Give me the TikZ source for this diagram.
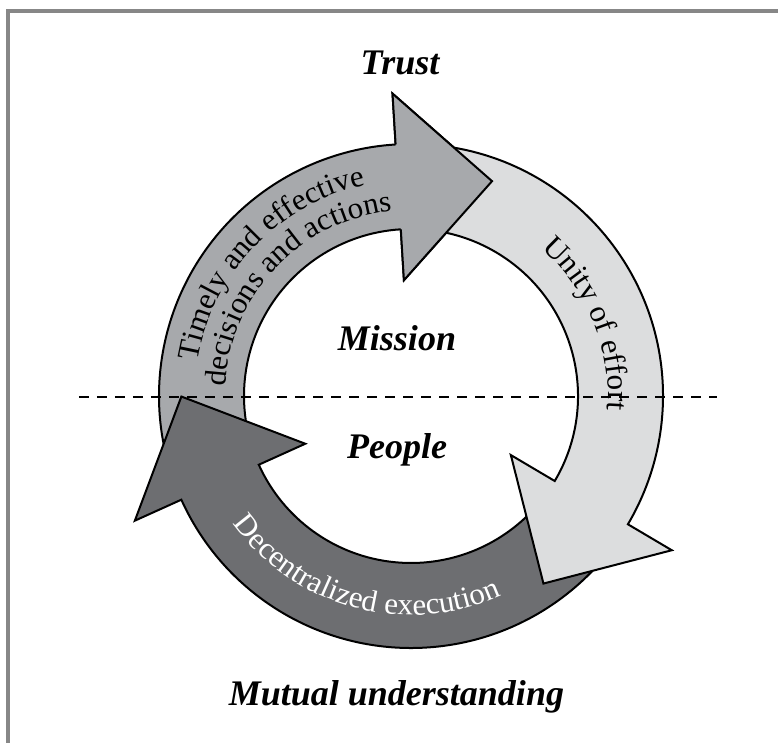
\documentclass[tikz,border=0pt]{standalone}
\usepackage{fontspec}
\setmainfont{Liberation Serif}
\newfontfamily\ringfamily[FakeStretch=1.02]{Liberation Serif}
\usetikzlibrary{calc,decorations.text}
\definecolor{midgray}{HTML}{A7A9AC}
\definecolor{palegray}{HTML}{DCDDDE}
\definecolor{deepgray}{HTML}{6D6E71}
\definecolor{framegray}{HTML}{878787}
\newcommand\ringtext{\ringfamily\fontsize{30.5}{32}\selectfont}
\tikzset{
  arrowline/.style={draw=black, line width=2pt, line join=miter},
  biglabel/.style={font=\fontsize{36}{40}\selectfont\bfseries\itshape, anchor=base, inner sep=0pt},
  divider/.style={draw=black, line width=1.8pt, dash pattern=on 10pt off 8pt},
  framerule/.style={draw=framegray, line width=4pt}
}
% #1 fill, #2 tail angle, #3 base angle, #4 name of tip
\newcommand\ringarrow[4]{%
  \coordinate (#4) at ($(#3:209.5pt)+({#3-90}:94pt)$);
  \filldraw[arrowline, fill=#1] (#2:252pt) arc[start angle=#2, end angle=#3, radius=252pt]
    -- (#3:303pt) -- (#4) -- (#3:116pt) -- (#3:167pt)
    arc[start angle=#3, end angle=#2, radius=167pt] -- cycle;
}
\begin{document}
\begin{tikzpicture}[x=1pt,y=1pt]
\useasboundingbox (-411,-346) rectangle (367,396);
\fill[white] (-411,-346) rectangle (367,396);
% frame (top and left edges)
\draw[framerule] (-403,-350) -- (-403,385) -- (372,385);
% arrows
\ringarrow{midgray}{195}{93.5}{graytip}
\ringarrow{deepgray}{-42}{-155.7}{darktip}
\ringarrow{palegray}{86}{-30.6}{palettip}
% gray head on top of the pale arrow's tail
\fill[midgray] (93.5:303pt) -- (graytip) -- (93.5:116pt) -- cycle;
\draw[arrowline] (93.5:252pt) -- (93.5:303pt) -- (graytip) -- (93.5:116pt) -- (93.5:167pt);
% ring texts
\path[decorate, decoration={text along path, text align=center,
  text={|\ringtext|Timely and effective}}]
  (196.5:216pt) arc[start angle=196.5, end angle=76.5, radius=216pt];
\path[decorate, decoration={text along path, text align=center,
  text={|\ringtext|decisions and actions}}]
  (196.5:186pt) arc[start angle=196.5, end angle=76.5, radius=186pt];
\path[decorate, decoration={text along path, text align=center,
  text={|\ringtext|Unity of effort}}]
  (82.2:197pt) arc[start angle=82.2, end angle=-37.8, radius=197pt];
\path[decorate, decoration={text along path, text align=center, text color=white,
  text={|\ringtext|Decentralized execution}}]
  (-175:219pt) arc[start angle=-175, end angle=-35, radius=219pt];
% dashed divider
\coordinate (dl) at (-332,-1);
\coordinate (dr) at (306,-1);
\draw[divider] (dl) -- (dr);
% labels
\node[biglabel] (trust) at (-11,321) {Trust};
\node[biglabel] (mission) at (-14,46) {Mission};
\node[biglabel] (people) at (-14,-62) {People};
\node[biglabel] (mutual) at (-14.5,-309) {Mutual understanding};
\end{tikzpicture}
\end{document}
